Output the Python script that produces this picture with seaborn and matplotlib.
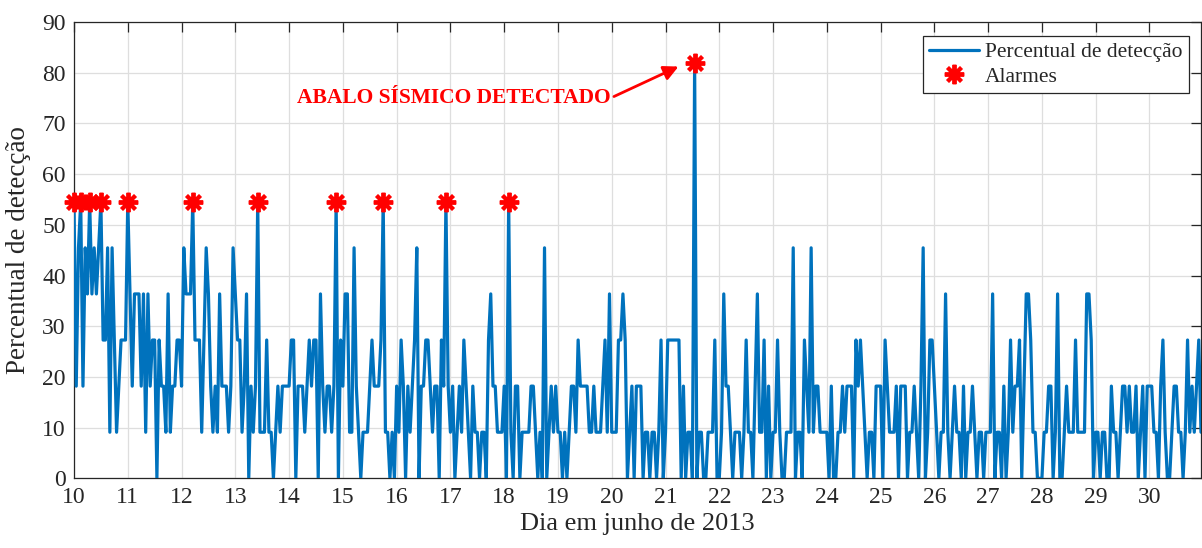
import numpy as np
import pandas as pd
import matplotlib
matplotlib.use("Agg")
import matplotlib.pyplot as plt
import seaborn as sns

# Hourly count of stations (out of 11) that flagged a detection, June 10-30 2013
STATIONS = 11
day10 = [6, 2, 5, 6, 2, 5, 4, 6, 4, 5, 4, 5, 6, 3, 3, 5, 1, 5, 3, 1, 2, 3, 3, 3]
day11 = [6, 4, 2, 4, 4, 4, 2, 4, 1, 4, 2, 3, 3, 0, 3, 2, 2, 1, 4, 1, 2, 2, 3, 3]
day12 = [2, 5, 4, 4, 4, 6, 3, 3, 3, 1, 3, 5, 4, 2, 1, 2, 1, 4, 2, 2, 2, 1, 2, 5]
day13 = [4, 3, 3, 1, 2, 4, 0, 2, 1, 2, 6, 1, 1, 1, 3, 1, 1, 0, 1, 2, 1, 2, 2, 2]
day14 = [2, 3, 3, 0, 2, 2, 2, 1, 2, 3, 2, 3, 3, 0, 4, 2, 1, 2, 2, 1, 2, 6, 0, 3]
day15 = [2, 4, 4, 1, 1, 5, 2, 1, 0, 1, 1, 1, 2, 3, 2, 2, 2, 3, 6, 1, 1, 0, 1, 0]
day16 = [2, 1, 3, 2, 0, 2, 1, 2, 3, 5, 0, 2, 2, 3, 3, 2, 1, 2, 2, 0, 3, 2, 6, 2]
day17 = [1, 2, 0, 1, 2, 1, 3, 2, 1, 0, 2, 1, 1, 0, 1, 1, 0, 3, 4, 2, 2, 1, 1, 1]
day18 = [2, 0, 6, 1, 0, 2, 2, 0, 1, 1, 1, 1, 2, 2, 1, 0, 1, 0, 5, 0, 1, 2, 1, 2]
day19 = [1, 1, 0, 1, 0, 1, 2, 2, 1, 3, 2, 2, 2, 2, 1, 1, 2, 1, 1, 1, 2, 3, 1, 4]
day20 = [1, 1, 1, 3, 3, 4, 3, 0, 1, 2, 0, 2, 2, 2, 0, 1, 1, 0, 1, 1, 0, 1, 3, 0]
day21 = [1, 3, 3, 3, 3, 3, 3, 0, 2, 0, 1, 1, 0, 9, 0, 1, 1, 0, 0, 1, 1, 1, 3, 0]
day22 = [0, 1, 4, 2, 2, 1, 0, 1, 1, 1, 0, 1, 3, 1, 1, 0, 2, 4, 1, 1, 3, 0, 2, 0]
day23 = [1, 1, 3, 1, 0, 0, 1, 1, 1, 5, 0, 1, 1, 0, 3, 2, 1, 5, 1, 2, 2, 1, 1, 1]
day24 = [1, 0, 2, 0, 0, 1, 1, 2, 1, 2, 2, 2, 0, 3, 2, 3, 2, 1, 0, 1, 1, 0, 2, 2]
day25 = [2, 0, 3, 2, 1, 1, 1, 2, 0, 2, 2, 2, 0, 1, 1, 2, 1, 0, 2, 5, 0, 1, 3, 3]
day26 = [2, 1, 0, 1, 1, 4, 1, 0, 1, 2, 1, 1, 0, 2, 0, 1, 1, 2, 1, 0, 1, 1, 0, 1]
day27 = [1, 1, 4, 0, 1, 1, 0, 2, 0, 1, 3, 1, 2, 2, 3, 0, 2, 4, 4, 3, 1, 1, 0, 0]
day28 = [0, 1, 1, 2, 2, 0, 1, 4, 0, 0, 1, 2, 1, 1, 1, 3, 1, 1, 1, 1, 4, 4, 3, 0]
day29 = [1, 1, 0, 1, 1, 0, 0, 2, 1, 1, 0, 1, 2, 2, 1, 2, 1, 1, 2, 0, 1, 2, 0, 2]
day30 = [2, 2, 1, 1, 0, 2, 3, 1, 0, 0, 1, 2, 2, 1, 1, 0, 1, 3, 1, 2, 1, 2, 3, 1]

# Hours (counted from June 10, 00:00) at which an alarm was raised
alarm_hours = [0, 3, 7, 12, 24, 53, 82, 117, 138, 166, 194, 277]

x_ticks = list(range(10, 31))
y_ticks = list(range(0, 91, 10))

days = [day10, day11, day12, day13, day14, day15, day16, day17, day18, day19,
        day20, day21, day22, day23, day24, day25, day26, day27, day28, day29, day30]
counts = np.concatenate([np.asarray(d, dtype=float) for d in days])
hours = np.arange(counts.size)
df = pd.DataFrame({
    "dia": 10 + hours / 24.0,
    "pct": counts * 100.0 / STATIONS,
})
alarms = df.iloc[alarm_hours]

sns.set_theme(style="whitegrid")
plt.rcParams["font.family"] = ["Liberation Serif", "DejaVu Serif"]
plt.rcParams["axes.edgecolor"] = "#262626"
plt.rcParams["axes.linewidth"] = 0.9

fig = plt.figure(figsize=(12.02, 5.48), dpi=100)
ax = fig.add_axes([74 / 1202, 1 - 478.3 / 548, 1127 / 1202, 456.3 / 548])

sns.lineplot(data=df, x="dia", y="pct", ax=ax, color="#0072BD", linewidth=2.3,
             estimator=None, label="Percentual de detecção", zorder=3)
ax.plot(alarms["dia"], alarms["pct"], linestyle="none", marker=(8, 2, 0),
        markersize=14, markeredgewidth=2.8, color="#FF0000",
        label="Alarmes", zorder=4, clip_on=False)

ax.set_xlim(10, 10 + (counts.size - 1) / 24.0)
ax.set_ylim(0, 90)
ax.set_xticks(x_ticks)
ax.set_yticks(y_ticks)
ax.tick_params(axis="both", direction="in", length=7.5, width=0.9,
               colors="#262626", labelsize=17, top=True, right=True,
               labelcolor="#262626", pad=6)
ax.grid(True, color="#dedede", linewidth=0.9)
for s in ax.spines.values():
    s.set_visible(True)
    s.set_color("#262626")

ax.set_xlabel("Dia em junho de 2013", fontsize=19, color="#262626", labelpad=4)
ax.set_ylabel("Percentual de detecção", fontsize=19.5, color="#262626", labelpad=8)

peak = df.iloc[alarm_hours[-1]]
ax.annotate("ABALO SÍSMICO DETECTADO",
            xy=(peak["dia"] - 0.3, peak["pct"] - 0.6),
            xytext=(19.98, 75.0), ha="right", va="center",
            color="#FF0000", fontsize=15.5, fontweight="bold",
            arrowprops=dict(arrowstyle="-|>", color="#FF0000", lw=2.0,
                            mutation_scale=22, shrinkA=0, shrinkB=0,
                            relpos=(1.0, 0.5)))

leg = ax.legend(loc="upper right", bbox_to_anchor=(0.9894, 0.970),
                borderaxespad=0, fontsize=15.5, frameon=True, fancybox=False,
                framealpha=1, edgecolor="#262626", handlelength=2.3,
                handletextpad=0.3, borderpad=0.3, labelspacing=0.2)
leg.get_frame().set_linewidth(0.9)
for t in leg.get_texts():
    t.set_color("#262626")

fig.savefig("out.png", dpi=100)
